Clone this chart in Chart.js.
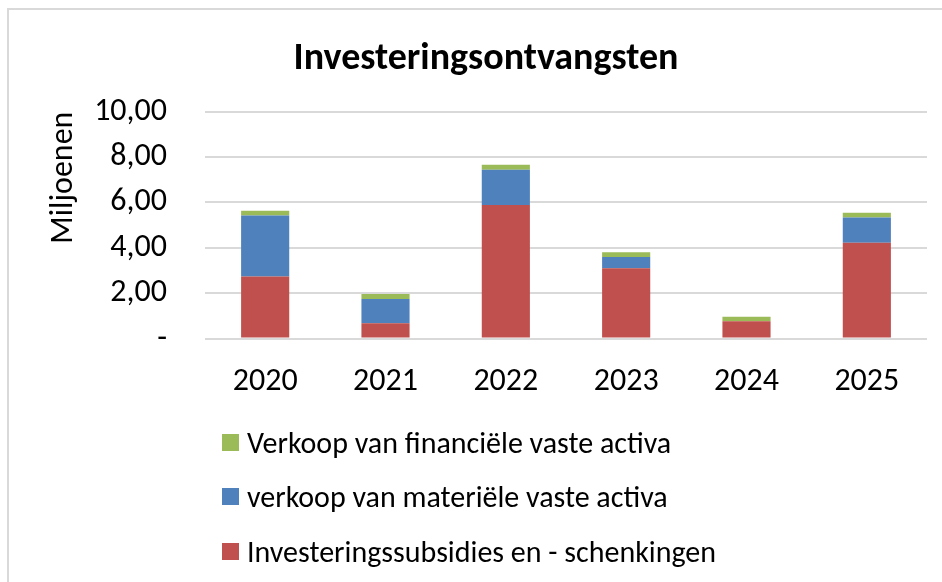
<!DOCTYPE html>
<html>
<head>
<meta charset="utf-8">
<script src="https://cdn.jsdelivr.net/npm/chart.js@4"></script>
<style>
  html, body { margin: 0; padding: 0; background: #fff; }
  #wrap { position: relative; width: 942px; height: 582px; overflow: hidden; }
  #kader { position: absolute; left: 7px; top: 8px; width: 1000px; height: 700px;
           border-left: 2px solid #d9d9d9; border-top: 2px solid #d9d9d9; }
  #grafiek { position: absolute; left: 0; top: 0; }
  #legenda { position: absolute; left: 222px; top: 415px; font-family: Carlito, Lato, sans-serif; font-size: 30px; color: #000; }
  .item { display: flex; align-items: center; height: 54.5px; }
  .blokje { width: 17px; height: 17px; margin-right: 8px; }
</style>
</head>
<body>
<div id="wrap">
  <div id="kader"></div>
  <canvas id="grafiek" width="942" height="582"></canvas>
  <div id="legenda"></div>
</div>
<script>
// gegevens (miljoenen)
const jaren = ['2020', '2021', '2022', '2023', '2024', '2025'];
const subsidies = [2.74, 0.68, 5.88, 3.10, 0.76, 4.22];
const materieel = [2.68, 1.07, 1.56, 0.49, 0.00, 1.11];
const financieel = [0.21, 0.21, 0.22, 0.21, 0.20, 0.21];
const yLabels = ['-', '2,00', '4,00', '6,00', '8,00', '10,00'];

const seriesNamen = [
  'Investeringssubsidies en - schenkingen',
  'verkoop van materiële vaste activa',
  'Verkoop van financiële vaste activa'
];
const kleuren = ['#C0504D', '#4F81BD', '#9BBB59'];
const lettertype = 'Carlito, Lato, sans-serif';

const datasets = [subsidies, materieel, financieel].map((waarden, i) => ({
  label: seriesNamen[i],
  data: waarden,
  backgroundColor: kleuren[i],
  barPercentage: 0.4,
  categoryPercentage: 1
}));

const ctx = document.getElementById('grafiek').getContext('2d');
new Chart(ctx, {
  type: 'bar',
  data: { labels: jaren, datasets: datasets },
  options: {
    responsive: false,
    animation: false,
    layout: { padding: { left: 45, right: 15, top: 0, bottom: 165 } },
    plugins: {
      legend: { display: false },
      tooltip: { enabled: false },
      title: {
        display: true,
        text: 'Investeringsontvangsten',
        color: '#000',
        font: { family: lettertype, size: 38, weight: 'bold' },
        padding: { top: 37, bottom: 29 }
      }
    },
    scales: {
      x: {
        stacked: true,
        grid: { display: false },
        border: { display: false },
        ticks: { color: '#000', font: { family: lettertype, size: 32 }, padding: 16 }
      },
      y: {
        stacked: true,
        min: 0,
        max: 10,
        afterFit: (schaal) => { schaal.width = 160; },
        ticks: {
          stepSize: 2,
          color: '#000',
          padding: 38,
          font: { family: lettertype, size: 32 },
          callback: (v, i) => yLabels[i]
        },
        grid: { color: '#d9d9d9', lineWidth: 2, drawTicks: false },
        border: { display: false },
        title: {
          display: true,
          text: 'Miljoenen',
          align: 'end',
          color: '#000',
          font: { family: lettertype, size: 32 },
          padding: { top: 0, bottom: 0 }
        }
      }
    }
  }
});

// legenda in omgekeerde volgorde, zoals in Excel
const legenda = document.getElementById('legenda');
for (let i = seriesNamen.length - 1; i >= 0; i--) {
  const rij = document.createElement('div');
  rij.className = 'item';
  const blok = document.createElement('span');
  blok.className = 'blokje';
  blok.style.background = kleuren[i];
  const tekst = document.createElement('span');
  tekst.textContent = seriesNamen[i];
  rij.appendChild(blok);
  rij.appendChild(tekst);
  legenda.appendChild(rij);
}
</script>
</body>
</html>
